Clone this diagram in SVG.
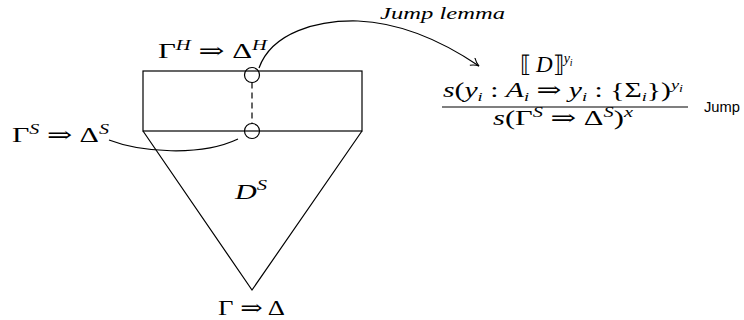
<svg xmlns="http://www.w3.org/2000/svg" width="744" height="320" viewBox="0 0 744 320">
<defs>
<style>
.ln{fill:none;stroke:#000;stroke-width:1.2}
.m{font-family:'Liberation Serif','DejaVu Serif',serif;font-size:21px;fill:#000}
.i{font-style:italic}
.sup{font-size:14px}
.sub{font-size:13px;font-style:italic}
.ss{font-size:10px;font-style:italic}
.sf{font-family:'Liberation Sans','DejaVu Sans',sans-serif;font-size:14px;fill:#000}
</style>
<marker id="arr" markerWidth="12" markerHeight="12" refX="9" refY="5" orient="auto" markerUnits="userSpaceOnUse">
<path d="M1,0.5 Q5,4 9,5 Q5,6 1,9.5" fill="none" stroke="#000" stroke-width="1.1"/>
</marker>
</defs>
<rect width="744" height="320" fill="#fff"/>
<g id="derivation">
<rect x="143" y="71" width="219" height="60" class="ln"/>
<polyline points="143,131 252,290 362,131" class="ln"/>
<text x="235" y="199" class="m" style="font-size:22px" textLength="32" lengthAdjust="spacingAndGlyphs"><tspan class="i">D</tspan><tspan class="i" style="font-size:15px" dy="-9">S</tspan></text>
</g>
<g id="topSequent">
<circle cx="252" cy="75" r="7.5" fill="#fff" class="ln"/>
<text x="158" y="58" class="m" textLength="109" lengthAdjust="spacingAndGlyphs">Γ<tspan class="sup i" dy="-8">H</tspan><tspan dy="8"> ⇒ Δ</tspan><tspan class="sup i" dy="-8">H</tspan></text>
</g>
<g id="midSequent">
<circle cx="252" cy="131" r="7.5" fill="#fff" class="ln"/>
<text x="12" y="142" class="m" textLength="97" lengthAdjust="spacingAndGlyphs">Γ<tspan class="sup i" dy="-8">S</tspan><tspan dy="8"> ⇒ Δ</tspan><tspan class="sup i" dy="-8">S</tspan></text>
</g>
<g id="endSequent">
<text x="218" y="315" class="m" textLength="67" lengthAdjust="spacingAndGlyphs">Γ ⇒ Δ</text>
</g>
<g id="jumpRule">
<text x="520" y="72" class="m" style="font-size:23px">⟦<tspan dx="5" class="i">D</tspan>⟧<tspan class="sub" style="font-size:14px" dy="-9">y</tspan><tspan class="ss" dy="3">i</tspan></text>
<text x="443" y="97" class="m" textLength="240" lengthAdjust="spacingAndGlyphs"><tspan class="i">s</tspan>(<tspan class="i">y</tspan><tspan class="sub" dy="4">i</tspan><tspan dy="-4"> : </tspan><tspan class="i">A</tspan><tspan class="sub" dy="4">i</tspan><tspan dy="-4"> ⇒ </tspan><tspan class="i">y</tspan><tspan class="sub" dy="4">i</tspan><tspan dy="-4"> : {Σ</tspan><tspan class="sub" dy="4">i</tspan><tspan dy="-4">})</tspan><tspan class="sub" dy="-8">y</tspan><tspan class="ss" dy="3">i</tspan></text>
<line x1="442" y1="107" x2="688" y2="107" class="ln"/>
<text x="493" y="125" class="m" textLength="140" lengthAdjust="spacingAndGlyphs"><tspan class="i">s</tspan>(Γ<tspan class="sup i" dy="-8">S</tspan><tspan dy="8"> ⇒ Δ</tspan><tspan class="sup i" dy="-8">S</tspan><tspan dy="8">)</tspan><tspan class="sup i" dy="-8">x</tspan></text>
<text x="704" y="112" class="sf" textLength="36" lengthAdjust="spacingAndGlyphs">Jump</text>
</g>
<g id="connectors">
<line x1="252" y1="82.5" x2="252" y2="123.5" class="ln" stroke-dasharray="6,4"/>
<path d="M259,68 C272,32 318,20 358,21 C405,23 445,43 479,66" class="ln" marker-end="url(#arr)"/>
<path d="M109,140 C140,152 200,157 238,139" class="ln"/>
<text x="380" y="19" class="m i" style="font-size:17px" textLength="125" lengthAdjust="spacingAndGlyphs">Jump lemma</text>
</g>
</svg>
